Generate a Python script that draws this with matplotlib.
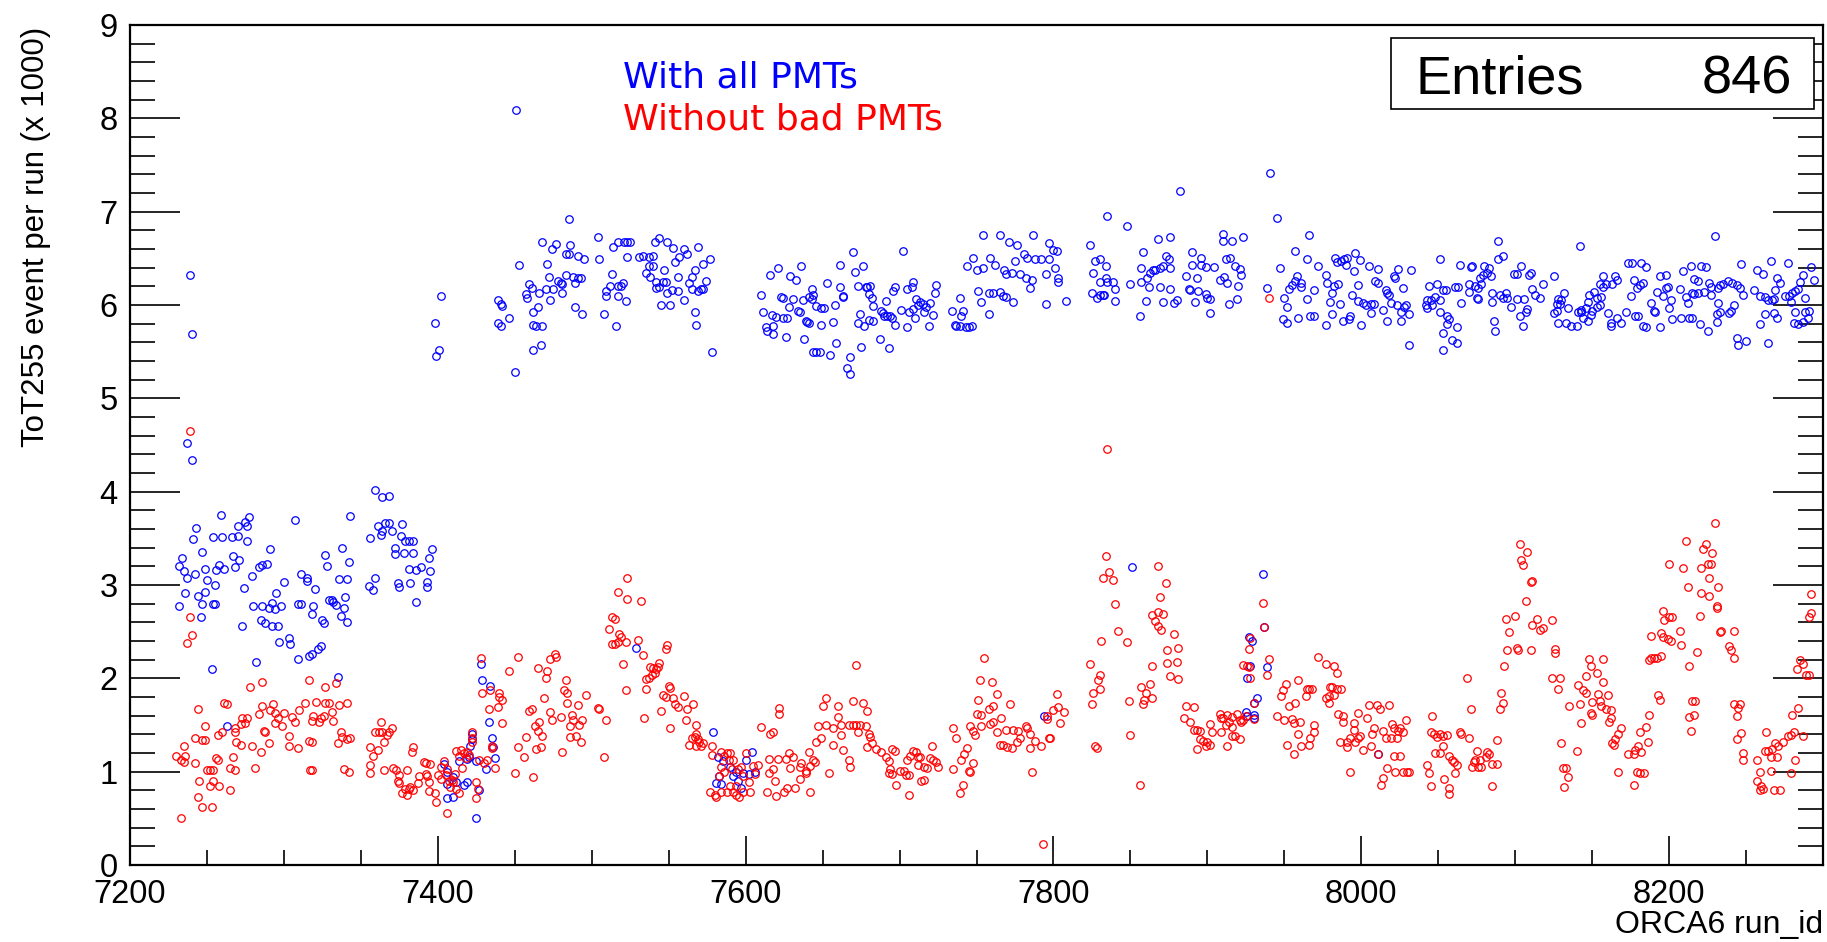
import matplotlib
matplotlib.use('Agg')
import matplotlib.pyplot as plt
from matplotlib.patches import Rectangle
from matplotlib.ticker import MultipleLocator

# ToT255 events per run (x 1000), (run_id, value) pairs
# "With all PMTs" (blue)
with_all_7230 = [
    (7239, 6.32), (7240, 5.69), (7237, 4.52), (7240, 4.34),
    (7259, 3.75), (7277, 3.73), (7243, 3.61), (7270, 3.63), (7276, 3.63), (7275, 3.67), (7241, 3.49),
    (7254, 3.51), (7260, 3.51), (7266, 3.51), (7270, 3.52), (7276, 3.47), (7291, 3.39), (7247, 3.35),
    (7234, 3.29), (7267, 3.31), (7271, 3.27), (7232, 3.20), (7235, 3.15), (7242, 3.12), (7237, 3.08),
    (7258, 3.21), (7261, 3.17), (7268, 3.19), (7256, 3.16), (7249, 3.17), (7284, 3.19), (7289, 3.22),
    (7286, 3.21), (7279, 3.10), (7250, 3.05), (7255, 3.00), (7274, 2.97), (7300, 3.03), (7236, 2.91),
    (7244, 2.88), (7249, 2.93), (7295, 2.91), (7232, 2.77), (7247, 2.80), (7254, 2.80), (7255, 2.80),
    (7246, 2.66), (7280, 2.77), (7286, 2.77), (7290, 2.75), (7292, 2.81), (7294, 2.74), (7298, 2.77),
    (7285, 2.63), (7288, 2.59), (7273, 2.56), (7292, 2.56), (7296, 2.56), (7297, 2.39), (7303, 2.43),
    (7304, 2.37), (7282, 2.18), (7253, 2.10), (7307, 3.70), (7311, 3.12), (7315, 3.08), (7315, 3.04),
    (7309, 2.80), (7311, 2.80), (7309, 2.21), (7316, 2.24), (7263, 1.49),
]
with_all_7320 = [
    (7451, 8.09), (7453, 6.43), (7459, 6.22), (7457, 6.12), (7458, 6.08), (7402, 6.10), (7398, 5.81),
    (7401, 5.52), (7399, 5.45), (7439, 6.05), (7441, 6.01), (7442, 5.99), (7446, 5.86), (7439, 5.81),
    (7441, 5.78), (7450, 5.28),
    (7359, 4.02), (7364, 3.94), (7368, 3.95), (7343, 3.74), (7361, 3.63), (7366, 3.66), (7368, 3.66),
    (7364, 3.58), (7363, 3.54), (7370, 3.58), (7377, 3.65), (7356, 3.50), (7376, 3.53), (7379, 3.47),
    (7381, 3.47), (7384, 3.47), (7372, 3.40), (7396, 3.39), (7338, 3.40), (7327, 3.32), (7328, 3.20),
    (7342, 3.25), (7372, 3.33), (7378, 3.34), (7384, 3.34), (7394, 3.29), (7381, 3.17), (7386, 3.16),
    (7389, 3.19), (7395, 3.15), (7336, 3.06), (7341, 3.06), (7359, 3.08), (7355, 2.99), (7358, 2.95),
    (7374, 3.02), (7375, 2.98), (7382, 3.02), (7393, 3.03), (7393, 2.98), (7320, 2.96), (7340, 2.87),
    (7329, 2.84), (7331, 2.84), (7332, 2.82), (7319, 2.77), (7318, 2.69), (7339, 2.75), (7337, 2.67),
    (7341, 2.60), (7325, 2.63), (7326, 2.59), (7334, 2.79), (7386, 2.82), (7324, 2.35), (7322, 2.31),
    (7318, 2.26), (7335, 2.01),
    (7428, 2.15), (7429, 1.98), (7434, 1.92), (7433, 1.53), (7435, 1.36), (7436, 1.26), (7437, 1.15),
    (7431, 1.03), (7422, 1.35), (7422, 1.40), (7421, 1.27), (7404, 1.08), (7414, 1.11), (7419, 1.14),
    (7406, 1.00), (7410, 0.94), (7412, 0.89), (7417, 0.86), (7419, 0.89), (7406, 0.87), (7410, 0.73),
    (7427, 0.80), (7425, 0.50), (7406, 0.72), (7420, 1.16), (7425, 1.11),
]
with_all_7460 = [
    (7485, 6.92), (7504, 6.73), (7468, 6.68), (7477, 6.65), (7486, 6.64), (7474, 6.60), (7517, 6.68),
    (7521, 6.68), (7523, 6.68), (7525, 6.68), (7514, 6.62), (7541, 6.68), (7544, 6.72), (7549, 6.68),
    (7553, 6.61), (7560, 6.60), (7562, 6.55), (7569, 6.62), (7483, 6.55), (7485, 6.55), (7491, 6.52),
    (7495, 6.49), (7505, 6.49), (7523, 6.51), (7531, 6.51), (7533, 6.52), (7537, 6.51), (7540, 6.52),
    (7557, 6.51), (7577, 6.49), (7471, 6.44), (7554, 6.46), (7572, 6.44), (7537, 6.42), (7540, 6.42),
    (7567, 6.38), (7535, 6.34), (7538, 6.30), (7513, 6.33), (7547, 6.37), (7556, 6.30), (7565, 6.30),
    (7472, 6.30), (7483, 6.32), (7488, 6.30), (7491, 6.29), (7493, 6.29), (7478, 6.26), (7480, 6.24),
    (7481, 6.22), (7489, 6.24), (7542, 6.25), (7546, 6.25), (7548, 6.25), (7563, 6.24), (7574, 6.26),
    (7512, 6.20), (7517, 6.20), (7520, 6.24), (7519, 6.20), (7461, 6.18), (7466, 6.13), (7470, 6.17),
    (7475, 6.17), (7481, 6.13), (7509, 6.15), (7509, 6.10), (7542, 6.18), (7544, 6.19), (7549, 6.13),
    (7552, 6.16), (7556, 6.15), (7565, 6.17), (7569, 6.15), (7571, 6.17), (7572, 6.17), (7517, 6.10),
    (7473, 6.05), (7522, 6.04), (7462, 5.93), (7465, 5.98), (7489, 5.98), (7545, 6.00), (7551, 6.00),
    (7560, 6.05), (7494, 5.90), (7508, 5.90), (7567, 5.92), (7462, 5.79), (7464, 5.78), (7468, 5.78),
    (7516, 5.78), (7568, 5.79), (7467, 5.57), (7462, 5.52), (7578, 5.50),
    (7529, 2.32), (7579, 1.42), (7582, 1.16), (7585, 1.11), (7590, 1.05), (7594, 1.00), (7598, 0.99),
    (7602, 0.97), (7583, 0.95), (7581, 0.88), (7584, 0.87), (7592, 0.95), (7600, 1.12), (7595, 0.90),
    (7597, 0.82), (7604, 1.21), (7606, 1.00),
]
with_all_7600 = [
    (7702, 6.58), (7670, 6.57), (7621, 6.40), (7636, 6.42), (7661, 6.43), (7676, 6.42), (7616, 6.32),
    (7629, 6.31), (7633, 6.27), (7671, 6.35), (7709, 6.25), (7724, 6.21), (7744, 6.42), (7610, 6.11),
    (7623, 6.09), (7624, 6.08), (7643, 6.17), (7644, 6.11), (7641, 6.09), (7653, 6.24), (7661, 6.19),
    (7663, 6.10), (7673, 6.20), (7679, 6.19), (7681, 6.20), (7680, 6.12), (7678, 6.19), (7697, 6.19),
    (7696, 6.15), (7705, 6.17), (7708, 6.19), (7723, 6.13), (7739, 6.07), (7631, 6.06), (7628, 5.98),
    (7637, 6.05), (7643, 6.06), (7658, 6.00), (7663, 6.09), (7649, 5.97), (7651, 5.97), (7646, 5.99),
    (7682, 6.07), (7683, 5.99), (7691, 6.04), (7688, 5.94), (7689, 5.91), (7690, 5.88), (7692, 5.88),
    (7694, 5.88), (7695, 5.86), (7701, 5.95), (7706, 5.93), (7709, 5.96), (7711, 6.06), (7712, 6.00),
    (7713, 6.03), (7715, 6.01), (7717, 5.98), (7720, 6.02), (7716, 5.92), (7710, 5.86), (7722, 5.89),
    (7734, 5.94), (7741, 5.94), (7740, 5.88), (7611, 5.92), (7617, 5.89), (7620, 5.87), (7624, 5.86),
    (7627, 5.86), (7634, 5.94), (7635, 5.92), (7639, 5.83), (7640, 5.82), (7641, 5.81), (7649, 5.79),
    (7657, 5.82), (7674, 5.90), (7673, 5.81), (7677, 5.77), (7680, 5.84), (7683, 5.83), (7697, 5.79),
    (7705, 5.76), (7719, 5.77), (7736, 5.79), (7737, 5.78), (7739, 5.78), (7743, 5.76), (7745, 5.76),
    (7613, 5.76), (7614, 5.72), (7618, 5.78), (7618, 5.69), (7626, 5.66), (7638, 5.64), (7644, 5.50),
    (7646, 5.50), (7648, 5.50), (7655, 5.46), (7659, 5.59), (7675, 5.55), (7687, 5.64), (7693, 5.54),
    (7668, 5.44), (7666, 5.32), (7668, 5.26),
]
with_all_7750 = [
    (7882, 7.22), (7835, 6.95), (7848, 6.85), (7754, 6.75), (7765, 6.75), (7787, 6.75), (7771, 6.68),
    (7776, 6.64), (7797, 6.66), (7800, 6.59), (7802, 6.58), (7824, 6.64), (7858, 6.57), (7868, 6.71),
    (7876, 6.73), (7748, 6.50), (7759, 6.50), (7762, 6.43), (7754, 6.40), (7750, 6.37), (7775, 6.47),
    (7781, 6.55), (7783, 6.50), (7788, 6.49), (7792, 6.49), (7797, 6.49), (7801, 6.40), (7768, 6.37),
    (7769, 6.33), (7773, 6.34), (7778, 6.33), (7782, 6.29), (7786, 6.27), (7785, 6.18), (7795, 6.33),
    (7827, 6.47), (7830, 6.49), (7834, 6.42), (7826, 6.34), (7830, 6.25), (7834, 6.29), (7835, 6.25),
    (7839, 6.25), (7840, 6.17), (7857, 6.40), (7857, 6.25), (7863, 6.34), (7865, 6.37), (7866, 6.38),
    (7869, 6.40), (7871, 6.42), (7873, 6.52), (7875, 6.49), (7876, 6.40), (7861, 6.29), (7869, 6.19),
    (7850, 6.23), (7862, 6.19), (7886, 6.31), (7751, 6.15), (7758, 6.13), (7761, 6.13), (7765, 6.14),
    (7767, 6.10), (7769, 6.09), (7774, 6.03), (7753, 6.03), (7758, 5.90), (7795, 6.01), (7808, 6.04),
    (7803, 6.29), (7803, 6.25), (7825, 6.13), (7828, 6.07), (7830, 6.11), (7832, 6.11), (7833, 6.11),
    (7840, 6.04), (7860, 6.04), (7871, 6.03), (7876, 6.17), (7878, 6.02), (7880, 6.05), (7888, 6.17),
    (7856, 5.88), (7747, 5.77),
    (7851, 3.19), (7794, 1.60),
]
with_all_7890 = [
    (7941, 7.41), (7945, 6.93), (7910, 6.76), (7910, 6.69), (7916, 6.69), (7923, 6.73), (7966, 6.75),
    (7957, 6.58), (7890, 6.57), (7896, 6.50), (7890, 6.43), (7896, 6.43), (7899, 6.41), (7904, 6.41),
    (7912, 6.49), (7915, 6.50), (7918, 6.42), (7921, 6.39), (7922, 6.32), (7908, 6.27), (7911, 6.30),
    (7913, 6.24), (7920, 6.20), (7893, 6.29), (7947, 6.40), (7965, 6.49), (7972, 6.42), (7977, 6.32),
    (7983, 6.50), (7984, 6.46), (7987, 6.47), (7989, 6.49), (7991, 6.50), (7990, 6.43), (7996, 6.56),
    (7999, 6.48), (7995, 6.36), (8005, 6.42), (8011, 6.39), (8024, 6.39), (8021, 6.31), (8022, 6.29),
    (8032, 6.37), (7958, 6.31), (7957, 6.26), (7961, 6.24), (7961, 6.19), (7955, 6.21), (7953, 6.17),
    (7969, 6.16), (7978, 6.24), (7982, 6.20), (7985, 6.22), (7981, 6.13), (7998, 6.21), (8009, 6.26),
    (8011, 6.24), (8016, 6.16), (8017, 6.13), (8018, 6.11), (8027, 6.18), (7889, 6.16), (7894, 6.15),
    (7899, 6.12), (7900, 6.07), (7892, 6.03), (7902, 6.06), (7914, 6.01), (7919, 6.06), (7902, 5.91),
    (7939, 6.18), (7950, 6.07), (7952, 5.98), (7965, 6.06), (7980, 6.03), (7986, 6.01), (7994, 6.11),
    (7998, 6.04), (8001, 6.02), (8003, 6.00), (8006, 6.01), (8008, 6.01), (8006, 5.91), (8014, 5.95),
    (8019, 6.02), (8023, 6.00), (8026, 5.92), (8029, 6.00), (8028, 5.98), (8031, 5.90), (7949, 5.85),
    (7952, 5.81), (7959, 5.86), (7967, 5.88), (7969, 5.88), (7981, 5.90), (7977, 5.79), (7988, 5.83),
    (7992, 5.85), (7993, 5.88), (8000, 5.79), (8017, 5.83), (8026, 5.83), (8031, 5.57),
    (7936, 3.12), (7937, 2.55), (7927, 2.44), (7929, 2.40), (7939, 2.12), (7926, 2.00), (7928, 2.13),
    (7932, 1.79), (7930, 1.74), (7925, 1.64), (7926, 1.60), (7930, 1.58), (7930, 1.61), (8011, 1.19),
]
with_all_8030 = [
    (8089, 6.69), (8142, 6.63), (8051, 6.49), (8064, 6.43), (8092, 6.52), (8089, 6.49), (8173, 6.45),
    (8071, 6.41), (8072, 6.42), (8080, 6.42), (8083, 6.40), (8082, 6.34), (8084, 6.31), (8079, 6.32),
    (8077, 6.29), (8104, 6.42), (8101, 6.33), (8099, 6.33), (8109, 6.32), (8110, 6.34), (8125, 6.31),
    (8157, 6.31), (8165, 6.31), (8166, 6.27), (8163, 6.22), (8159, 6.23), (8157, 6.19), (8155, 6.23),
    (8044, 6.20), (8049, 6.23), (8053, 6.16), (8061, 6.19), (8063, 6.19), (8070, 6.23), (8074, 6.20),
    (8076, 6.18), (8078, 6.22), (8075, 6.08), (8076, 6.06), (8070, 6.14), (8055, 6.16), (8051, 6.05),
    (8048, 6.09), (8043, 6.05), (8045, 6.05), (8042, 6.00), (8043, 5.97), (8046, 6.00), (8065, 6.02),
    (8085, 6.13), (8090, 6.11), (8094, 6.13), (8092, 6.07), (8095, 6.07), (8085, 6.03), (8097, 5.98),
    (8101, 6.06), (8106, 6.06), (8111, 6.17), (8113, 6.11), (8116, 6.08), (8118, 6.22), (8108, 5.96),
    (8107, 5.92), (8103, 5.88), (8105, 5.77), (8086, 5.83), (8087, 5.72), (8128, 6.06), (8132, 6.13),
    (8130, 6.05), (8127, 6.01), (8129, 6.01), (8134, 5.97), (8125, 5.91), (8127, 5.94), (8128, 5.81),
    (8133, 5.81), (8136, 5.78), (8140, 5.77), (8141, 5.93), (8143, 5.92), (8143, 5.95), (8146, 5.97),
    (8147, 6.03), (8148, 6.11), (8151, 6.14), (8153, 6.08), (8150, 5.94), (8153, 5.98), (8155, 6.00),
    (8156, 6.09), (8149, 5.89), (8147, 5.83), (8144, 5.86), (8160, 5.91), (8162, 5.81), (8162, 5.78),
    (8166, 5.86), (8169, 5.81), (8172, 5.92), (8051, 5.92), (8056, 5.88), (8057, 5.85), (8056, 5.80),
    (8062, 5.76), (8053, 5.70), (8059, 5.62), (8062, 5.59), (8053, 5.52),
]
with_all_8175 = [
    (8230, 6.74), (8182, 6.45), (8185, 6.41), (8176, 6.45), (8214, 6.42), (8221, 6.42), (8224, 6.41),
    (8247, 6.44), (8266, 6.47), (8277, 6.45), (8292, 6.41), (8294, 6.27), (8287, 6.32), (8285, 6.25),
    (8257, 6.37), (8261, 6.33), (8270, 6.29), (8272, 6.24), (8209, 6.36), (8198, 6.32), (8194, 6.31),
    (8216, 6.28), (8219, 6.26), (8226, 6.24), (8227, 6.19), (8233, 6.21), (8235, 6.23), (8238, 6.26),
    (8241, 6.24), (8244, 6.21), (8246, 6.18), (8248, 6.11), (8255, 6.16), (8259, 6.10), (8262, 6.09),
    (8177, 6.27), (8181, 6.21), (8183, 6.24), (8179, 6.18), (8198, 6.18), (8199, 6.19), (8207, 6.17),
    (8211, 6.09), (8215, 6.13), (8216, 6.12), (8219, 6.13), (8223, 6.14), (8227, 6.11), (8232, 6.18),
    (8192, 6.14), (8196, 6.10), (8175, 6.10), (8264, 6.05), (8267, 6.05), (8268, 6.06), (8269, 6.16),
    (8275, 6.10), (8278, 6.10), (8280, 6.13), (8282, 6.15), (8284, 6.17), (8288, 6.08), (8279, 6.03),
    (8188, 6.02), (8201, 6.05), (8212, 6.02), (8232, 6.02), (8242, 6.00), (8240, 5.94), (8239, 5.91),
    (8233, 5.92), (8231, 5.90), (8262, 5.90), (8268, 5.91), (8270, 5.86), (8288, 5.93), (8291, 5.94),
    (8282, 5.93), (8231, 5.82), (8220, 5.80), (8215, 5.86), (8213, 5.86), (8208, 5.86), (8202, 5.85),
    (8200, 5.97), (8190, 5.94), (8191, 5.92), (8178, 5.88), (8180, 5.88), (8183, 5.77), (8185, 5.76),
    (8194, 5.76), (8225, 5.72), (8259, 5.80), (8281, 5.81), (8284, 5.80), (8287, 5.82), (8290, 5.86),
    (8244, 5.65), (8245, 5.57), (8250, 5.61), (8264, 5.59),
]

# "Without bad PMTs" (red)
without_bad_7230 = [
    (7239, 4.65), (7239, 2.66), (7240, 2.46), (7237, 2.38), (7278, 1.91), (7286, 1.96), (7316, 1.98),
    (7244, 1.67), (7261, 1.74), (7263, 1.72), (7286, 1.70), (7293, 1.72), (7291, 1.66), (7294, 1.63),
    (7300, 1.63), (7310, 1.66), (7314, 1.74), (7305, 1.59), (7307, 1.53), (7284, 1.62), (7296, 1.58),
    (7273, 1.57), (7276, 1.57), (7299, 1.49), (7294, 1.52), (7275, 1.52), (7272, 1.51), (7268, 1.47),
    (7249, 1.49), (7257, 1.39), (7260, 1.43), (7268, 1.42), (7287, 1.44), (7288, 1.42), (7242, 1.36),
    (7247, 1.34), (7249, 1.34), (7269, 1.32), (7272, 1.29), (7279, 1.28), (7290, 1.31), (7303, 1.38),
    (7303, 1.28), (7309, 1.25), (7316, 1.33), (7235, 1.27), (7230, 1.17), (7233, 1.12), (7236, 1.17),
    (7235, 1.10), (7242, 1.09), (7256, 1.15), (7257, 1.12), (7267, 1.16), (7285, 1.21), (7250, 1.02),
    (7252, 1.02), (7254, 1.02), (7265, 1.04), (7268, 1.02), (7281, 1.04), (7317, 1.02), (7245, 0.90),
    (7254, 0.90), (7252, 0.85), (7258, 0.85), (7265, 0.80), (7244, 0.73), (7247, 0.62), (7253, 0.62),
    (7233, 0.50),
]
without_bad_7320 = [
    (7428, 2.22), (7452, 2.23), (7446, 2.08), (7334, 1.95), (7327, 1.91), (7429, 1.84), (7434, 1.88),
    (7440, 1.84), (7440, 1.80), (7442, 1.77), (7321, 1.75), (7327, 1.74), (7329, 1.74), (7341, 1.74),
    (7336, 1.71), (7433, 1.67), (7439, 1.69), (7459, 1.65), (7319, 1.60), (7326, 1.60), (7324, 1.58),
    (7331, 1.64), (7332, 1.54), (7318, 1.54), (7323, 1.53), (7442, 1.52), (7363, 1.53), (7359, 1.43),
    (7362, 1.43), (7364, 1.42), (7368, 1.43), (7370, 1.47), (7367, 1.39), (7337, 1.43), (7338, 1.37),
    (7343, 1.36), (7341, 1.35), (7335, 1.31), (7365, 1.32), (7457, 1.37), (7318, 1.32), (7356, 1.26),
    (7361, 1.23), (7384, 1.26), (7383, 1.21), (7452, 1.26), (7422, 1.43), (7422, 1.36), (7422, 1.32),
    (7412, 1.22), (7415, 1.23), (7417, 1.20), (7419, 1.21), (7414, 1.17), (7418, 1.15), (7416, 1.04),
    (7420, 1.18), (7435, 1.28), (7435, 1.25), (7427, 1.13), (7432, 1.13), (7430, 1.09), (7456, 1.16),
    (7437, 1.04), (7450, 0.99), (7358, 1.17), (7356, 1.07), (7356, 0.99), (7365, 1.02), (7318, 1.02),
    (7339, 1.03), (7342, 1.00), (7371, 1.04), (7373, 1.02), (7375, 0.96), (7374, 0.90), (7375, 0.88),
    (7379, 0.81), (7377, 0.77), (7381, 0.81), (7380, 0.75), (7382, 0.84), (7380, 1.02), (7387, 0.88),
    (7384, 0.80), (7388, 0.95), (7392, 0.97), (7393, 0.95), (7395, 1.08), (7392, 1.09), (7391, 1.10),
    (7394, 0.89), (7398, 0.77), (7399, 0.68), (7394, 0.79), (7404, 1.11), (7402, 1.05), (7400, 0.96),
    (7402, 0.92), (7406, 1.03), (7405, 0.96), (7407, 0.90), (7409, 0.91), (7408, 0.84), (7410, 0.89),
    (7412, 0.81), (7406, 0.56), (7414, 0.77), (7411, 0.97), (7425, 0.89), (7426, 0.81), (7425, 0.72),
]
without_bad_7460 = [
    (7523, 3.08), (7517, 2.92), (7523, 2.85), (7532, 2.83), (7513, 2.66), (7515, 2.64), (7511, 2.53),
    (7518, 2.47), (7519, 2.44), (7517, 2.39), (7515, 2.37), (7513, 2.37), (7522, 2.39), (7530, 2.41),
    (7533, 2.25), (7549, 2.36), (7548, 2.31), (7520, 2.15), (7538, 2.12), (7540, 2.11), (7542, 2.10),
    (7544, 2.16), (7541, 2.06), (7539, 2.04), (7537, 2.00), (7535, 1.99), (7543, 2.12), (7535, 1.89),
    (7522, 1.87), (7465, 2.11), (7471, 2.08), (7470, 2.00), (7473, 2.21), (7476, 2.26), (7477, 2.23),
    (7483, 1.98), (7482, 1.87), (7484, 1.84), (7496, 1.82), (7469, 1.79), (7550, 1.92), (7551, 1.90),
    (7546, 1.82), (7548, 1.80), (7553, 1.79), (7554, 1.73), (7556, 1.69), (7560, 1.81), (7566, 1.72),
    (7562, 1.67), (7484, 1.74), (7491, 1.71), (7487, 1.61), (7504, 1.68), (7505, 1.67), (7473, 1.64),
    (7474, 1.55), (7480, 1.59), (7488, 1.55), (7494, 1.55), (7492, 1.50), (7486, 1.49), (7509, 1.55),
    (7545, 1.65), (7534, 1.57), (7461, 1.67), (7463, 1.49), (7466, 1.53), (7465, 1.44), (7468, 1.38),
    (7561, 1.55), (7551, 1.47), (7568, 1.50), (7486, 1.37), (7490, 1.38), (7493, 1.32), (7464, 1.24),
    (7467, 1.26), (7481, 1.21), (7508, 1.16), (7462, 0.94), (7563, 1.29), (7565, 1.36), (7567, 1.37),
    (7569, 1.35), (7570, 1.32), (7572, 1.31), (7568, 1.28), (7571, 1.27), (7568, 1.40), (7578, 1.28),
    (7578, 1.18), (7584, 1.21), (7588, 1.20), (7590, 1.20), (7586, 1.17), (7589, 1.13), (7592, 1.13),
    (7600, 1.20), (7583, 0.95), (7586, 1.00), (7591, 1.03), (7595, 1.03), (7597, 1.05), (7598, 0.95),
    (7602, 0.89), (7577, 0.78), (7580, 0.75), (7581, 0.73), (7584, 0.78), (7588, 0.78), (7592, 0.78),
    (7594, 0.75), (7596, 0.73), (7598, 0.78), (7603, 0.78), (7590, 0.85), (7594, 0.85), (7584, 1.05),
]
without_bad_7600 = [
    (7672, 2.14), (7652, 1.79), (7650, 1.70), (7660, 1.70), (7670, 1.76), (7676, 1.74), (7679, 1.65),
    (7622, 1.68), (7622, 1.62), (7660, 1.59), (7647, 1.49), (7652, 1.50), (7657, 1.47), (7662, 1.50),
    (7667, 1.50), (7670, 1.50), (7672, 1.50), (7674, 1.50), (7678, 1.49), (7673, 1.43), (7680, 1.40),
    (7662, 1.39), (7610, 1.48), (7616, 1.40), (7618, 1.43), (7649, 1.36), (7646, 1.32), (7657, 1.29),
    (7681, 1.37), (7682, 1.31), (7679, 1.26), (7685, 1.24), (7688, 1.21), (7735, 1.47), (7737, 1.36),
    (7744, 1.25), (7742, 1.19), (7740, 1.13), (7745, 1.01), (7739, 0.77), (7741, 0.86), (7735, 1.03),
    (7663, 1.23), (7667, 1.13), (7668, 1.05), (7654, 0.99), (7641, 1.21), (7644, 1.13), (7645, 1.10),
    (7642, 1.06), (7639, 1.01), (7636, 1.09), (7635, 1.05), (7631, 1.16), (7628, 1.20), (7626, 1.14),
    (7629, 1.04), (7615, 1.14), (7621, 1.14), (7618, 1.03), (7615, 0.99), (7608, 1.07), (7605, 1.06),
    (7606, 0.97), (7635, 0.92), (7632, 0.83), (7627, 0.83), (7625, 0.78), (7620, 0.74), (7614, 0.78),
    (7642, 0.78), (7619, 0.90), (7639, 0.99), (7691, 1.16), (7693, 1.11), (7695, 1.24), (7697, 1.22),
    (7694, 1.03), (7693, 0.99), (7695, 0.98), (7698, 0.86), (7700, 1.01), (7703, 1.01), (7704, 0.96),
    (7706, 0.96), (7705, 1.12), (7706, 0.75), (7707, 1.17), (7709, 1.22), (7711, 1.21), (7712, 1.16),
    (7713, 1.16), (7716, 1.05), (7714, 0.90), (7716, 0.91), (7718, 1.04), (7721, 1.28), (7720, 1.15),
    (7722, 1.13), (7724, 1.10), (7725, 1.05), (7712, 1.07),
]
without_bad_7750 = [
    (7835, 4.46), (7834, 3.31), (7836, 3.14), (7839, 3.05), (7832, 3.07), (7868, 3.20), (7873, 3.02),
    (7869, 2.87), (7840, 2.80), (7864, 2.68), (7868, 2.71), (7871, 2.69), (7866, 2.61), (7868, 2.56),
    (7870, 2.52), (7842, 2.51), (7831, 2.40), (7848, 2.39), (7878, 2.47), (7874, 2.30), (7881, 2.32),
    (7824, 2.15), (7874, 2.16), (7880, 2.17), (7864, 2.13), (7830, 2.04), (7829, 1.98), (7830, 1.89),
    (7826, 1.84), (7825, 1.72), (7876, 2.03), (7881, 1.99), (7857, 1.91), (7863, 1.94), (7860, 1.84),
    (7859, 1.77), (7864, 1.79), (7858, 1.73), (7849, 1.76), (7755, 2.22), (7752, 1.98), (7760, 1.96),
    (7763, 1.83), (7751, 1.77), (7750, 1.62), (7753, 1.61), (7758, 1.67), (7761, 1.70), (7772, 1.72),
    (7802, 1.83), (7886, 1.70), (7885, 1.57), (7746, 1.49), (7748, 1.44), (7749, 1.39), (7753, 1.49),
    (7759, 1.51), (7766, 1.57), (7763, 1.43), (7761, 1.53), (7769, 1.45), (7774, 1.45), (7777, 1.44),
    (7782, 1.49), (7783, 1.47), (7785, 1.40), (7788, 1.33), (7792, 1.28), (7797, 1.36), (7798, 1.36),
    (7796, 1.56), (7796, 1.60), (7800, 1.66), (7803, 1.69), (7807, 1.64), (7804, 1.52), (7765, 1.29),
    (7767, 1.29), (7770, 1.26), (7773, 1.25), (7776, 1.32), (7778, 1.36), (7785, 1.25), (7748, 1.09),
    (7746, 1.00), (7786, 1.00), (7793, 0.22), (7827, 1.27), (7828, 1.25), (7850, 1.39), (7856, 0.86),
    (7940, 6.08),
]
without_bad_7890 = [
    (7936, 2.81), (7937, 2.55), (7928, 2.43), (7927, 2.31), (7940, 2.21), (7939, 2.04), (7923, 2.14),
    (7926, 2.13), (7927, 2.12), (7928, 2.00), (7930, 1.74), (7930, 1.56), (7925, 1.60), (7923, 1.55),
    (7922, 1.53), (7921, 1.55), (7916, 1.59), (7919, 1.62), (7913, 1.61), (7909, 1.58), (7908, 1.62),
    (7910, 1.57), (7914, 1.53), (7916, 1.48), (7903, 1.42), (7902, 1.51), (7912, 1.50), (7909, 1.42),
    (7916, 1.38), (7918, 1.38), (7921, 1.35), (7913, 1.28), (7902, 1.29), (7899, 1.27), (7893, 1.24),
    (7895, 1.35), (7897, 1.33), (7900, 1.32), (7891, 1.45), (7893, 1.45), (7895, 1.44), (7889, 1.53),
    (7891, 1.69), (7972, 2.23), (7977, 2.15), (7982, 2.13), (7984, 2.06), (7980, 1.91), (7981, 1.91),
    (7984, 1.89), (7987, 1.89), (7979, 1.81), (7977, 1.79), (7982, 1.82), (7979, 1.74), (7959, 1.98),
    (7951, 1.94), (7949, 1.88), (7965, 1.89), (7966, 1.89), (7968, 1.89), (7964, 1.81), (7948, 1.81),
    (7957, 1.74), (7953, 1.70), (7945, 1.60), (7950, 1.55), (7955, 1.56), (7956, 1.52), (7960, 1.53),
    (7969, 1.50), (7969, 1.43), (7959, 1.40), (7952, 1.29), (7956, 1.19), (7961, 1.28), (7966, 1.29),
    (7967, 1.36), (7985, 1.62), (7988, 1.60), (7988, 1.53), (7995, 1.52), (7998, 1.63), (8004, 1.57),
    (8005, 1.71), (8010, 1.71), (8012, 1.67), (8018, 1.71), (7995, 1.45), (7999, 1.38), (8007, 1.40),
    (8008, 1.47), (8014, 1.44), (8021, 1.47), (8024, 1.44), (8029, 1.55), (8027, 1.42), (8019, 1.36),
    (8023, 1.36), (8016, 1.36), (7986, 1.32), (7991, 1.32), (7993, 1.36), (7996, 1.32), (7998, 1.36),
    (7991, 1.26), (8001, 1.23), (8006, 1.27), (8011, 1.19), (8021, 1.17), (8025, 1.17), (7993, 1.00),
    (8017, 1.04), (8014, 0.93), (8013, 0.86), (8022, 1.00), (8027, 1.00), (8030, 1.00), (8031, 1.00),
    (8020, 1.51), (8025, 1.47),
]
without_bad_8030 = [
    (8103, 3.44), (8108, 3.35), (8104, 3.27), (8105, 3.21), (8110, 3.03), (8111, 3.04), (8107, 2.83),
    (8094, 2.64), (8100, 2.67), (8114, 2.64), (8124, 2.63), (8111, 2.57), (8116, 2.52), (8118, 2.54),
    (8096, 2.50), (8095, 2.30), (8101, 2.32), (8102, 2.30), (8110, 2.30), (8126, 2.31), (8126, 2.27),
    (8093, 2.13), (8069, 2.00), (8124, 2.00), (8129, 2.00), (8128, 1.89), (8091, 1.84), (8092, 1.74),
    (8090, 1.67), (8071, 1.67), (8148, 2.21), (8157, 2.21), (8149, 2.13), (8153, 2.06), (8146, 2.03),
    (8157, 1.96), (8141, 1.93), (8144, 1.87), (8146, 1.84), (8154, 1.83), (8160, 1.82), (8135, 1.70),
    (8142, 1.73), (8150, 1.75), (8155, 1.76), (8156, 1.70), (8159, 1.67), (8162, 1.66), (8149, 1.63),
    (8150, 1.61), (8143, 1.52), (8162, 1.58), (8161, 1.53), (8169, 1.47), (8167, 1.40), (8165, 1.35),
    (8163, 1.31), (8164, 1.29), (8173, 1.19), (8046, 1.60), (8045, 1.43), (8047, 1.40), (8049, 1.37),
    (8051, 1.40), (8053, 1.38), (8056, 1.39), (8064, 1.43), (8065, 1.40), (8070, 1.36), (8048, 1.20),
    (8053, 1.27), (8051, 1.20), (8057, 1.17), (8059, 1.13), (8060, 1.10), (8062, 1.07), (8061, 0.99),
    (8043, 1.07), (8044, 0.99), (8045, 0.85), (8054, 0.92), (8057, 0.82), (8057, 0.76), (8075, 1.22),
    (8082, 1.21), (8083, 1.19), (8081, 1.16), (8077, 1.13), (8074, 1.13), (8073, 1.10), (8072, 1.05),
    (8076, 1.05), (8078, 1.05), (8085, 1.08), (8088, 1.08), (8088, 1.34), (8085, 0.85), (8130, 1.31),
    (8140, 1.22), (8131, 1.04), (8133, 1.04), (8134, 0.94), (8132, 0.84), (8167, 1.00),
]
without_bad_8175 = [
    (8230, 3.66), (8211, 3.47), (8224, 3.44), (8222, 3.39), (8228, 3.34), (8200, 3.22), (8209, 3.18),
    (8221, 3.18), (8225, 3.22), (8227, 3.22), (8226, 3.08), (8212, 2.98), (8221, 2.91), (8226, 2.88),
    (8232, 2.98), (8231, 2.77), (8231, 2.75), (8292, 2.90), (8292, 2.70), (8291, 2.66), (8196, 2.72),
    (8197, 2.63), (8200, 2.66), (8202, 2.66), (8220, 2.67), (8207, 2.51), (8208, 2.36), (8195, 2.49),
    (8196, 2.44), (8199, 2.42), (8201, 2.40), (8188, 2.45), (8187, 2.20), (8188, 2.22), (8190, 2.22),
    (8192, 2.22), (8195, 2.24), (8213, 2.13), (8218, 2.28), (8233, 2.50), (8234, 2.51), (8242, 2.51),
    (8239, 2.35), (8240, 2.30), (8242, 2.22), (8285, 2.20), (8283, 2.10), (8287, 2.15), (8289, 2.04),
    (8291, 2.04), (8193, 1.82), (8194, 1.77), (8187, 1.61), (8215, 1.76), (8217, 1.76), (8216, 1.61),
    (8213, 1.59), (8214, 1.44), (8242, 1.72), (8246, 1.72), (8245, 1.68), (8244, 1.60), (8185, 1.48),
    (8181, 1.42), (8186, 1.32), (8182, 1.21), (8180, 1.28), (8178, 1.23), (8177, 1.19), (8179, 1.00),
    (8184, 0.99), (8181, 0.99), (8177, 0.86), (8247, 1.41), (8244, 1.35), (8248, 1.20), (8248, 1.12),
    (8257, 1.12), (8259, 1.00), (8257, 0.90), (8260, 0.85), (8261, 0.81), (8259, 0.80), (8268, 0.80),
    (8272, 0.80), (8266, 1.01), (8263, 1.43), (8262, 1.22), (8264, 1.22), (8267, 1.24), (8266, 1.16),
    (8269, 1.31), (8270, 1.16), (8271, 1.28), (8274, 1.32), (8277, 1.38), (8279, 1.39), (8281, 1.42),
    (8280, 1.61), (8284, 1.68), (8287, 1.38), (8282, 1.12), (8279, 0.99),
]

with_all = (with_all_7230 + with_all_7320 + with_all_7460 + with_all_7600 +
            with_all_7750 + with_all_7890 + with_all_8030 + with_all_8175)
without_bad = (without_bad_7230 + without_bad_7320 + without_bad_7460 + without_bad_7600 +
               without_bad_7750 + without_bad_7890 + without_bad_8030 + without_bad_8175)

entries = 846

W, H = 1827, 942
fig = plt.figure(figsize=(W / 100, H / 100), dpi=100)
# axes frame in pixels: left 130, right 1823, top 25, bottom 865
ax = fig.add_axes([130 / W, 1 - 865 / H, (1823 - 130) / W, (865 - 25) / H])

ax.plot([p[0] for p in with_all], [p[1] for p in with_all], 'o', ls='none',
        mfc='none', mec=(0, 0, 1), ms=5.4, mew=0.9)
ax.plot([p[0] for p in without_bad], [p[1] for p in without_bad], 'o', ls='none',
        mfc='none', mec=(1, 0, 0), ms=5.4, mew=0.9)

ax.set_xlim(7200, 8300)
ax.set_ylim(0, 9)
ax.xaxis.set_major_locator(MultipleLocator(200))
ax.xaxis.set_minor_locator(MultipleLocator(50))
ax.yaxis.set_major_locator(MultipleLocator(1))
ax.yaxis.set_minor_locator(MultipleLocator(0.2))

for s in ax.spines.values():
    s.set_linewidth(1.6)

tick_font = 'Liberation Sans'
ax.tick_params(axis='x', which='major', direction='in', length=21, width=1.2,
               pad=10, labelsize=23.5, top=False)
ax.tick_params(axis='x', which='minor', direction='in', length=11, width=1.2, top=False)
ax.tick_params(axis='y', which='major', direction='in', length=36, width=1.2,
               pad=9, labelsize=23.5, right=True)
ax.tick_params(axis='y', which='minor', direction='in', length=18, width=1.2, right=True)
for lab in ax.get_xticklabels() + ax.get_yticklabels():
    lab.set_fontfamily(tick_font)

# axis titles (ROOT style, right-aligned at the axis ends)
fig.text(36 / W, 1 - 27 / H, 'ToT255 event per run (x 1000)', rotation=90,
         ha='center', va='top', fontsize=22.5, family=tick_font)
fig.text(1823 / W, 1 - 933 / H, 'ORCA6 run_id', ha='right', va='baseline',
         fontsize=23, family=tick_font)

# series labels
fig.text(623 / W, 1 - 87 / H, 'With all PMTs', color=(0, 0, 1), fontsize=26,
         family='DejaVu Sans', ha='left', va='baseline')
fig.text(623 / W, 1 - 130 / H, 'Without bad PMTs', color=(1, 0, 0), fontsize=26,
         family='DejaVu Sans', ha='left', va='baseline')

# stats box
box = Rectangle((1391 / W, 1 - 109 / H), (1814 - 1391) / W, (109 - 38) / H,
                transform=fig.transFigure, facecolor='white', edgecolor='black', lw=1.2)
fig.patches.append(box)
fig.text(1415 / W, 1 - 93 / H, 'Entries', ha='left', va='baseline', fontsize=39,
         family=tick_font)
fig.text(1792 / W, 1 - 93 / H, str(entries), ha='right', va='baseline', fontsize=39,
         family=tick_font)

fig.savefig('out.png', dpi=100)
